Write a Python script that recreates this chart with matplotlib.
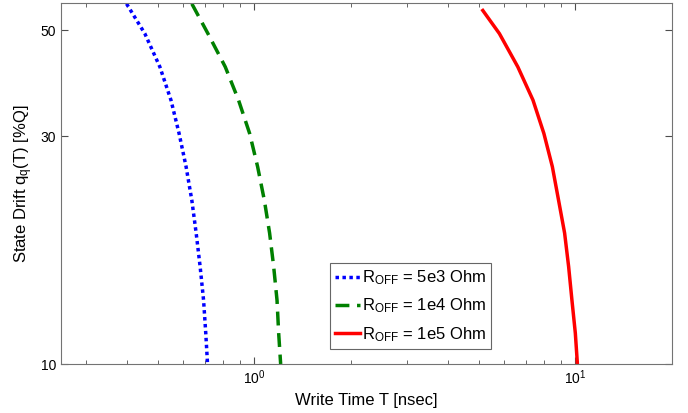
import matplotlib
matplotlib.use("Agg")
import matplotlib.pyplot as plt
from matplotlib.ticker import FixedLocator, FixedFormatter, NullFormatter, NullLocator, LogLocator

plt.rcParams['font.family'] = ['Liberation Sans', 'DejaVu Sans']
plt.rcParams['mathtext.default'] = 'regular'

# write time T [nsec] and state drift q_q(T) [%Q]
q_levels = [56.8, 49.2, 41.9, 35.7, 30.4, 25.9, 22.0, 18.8, 16.0, 13.6, 11.6, 10.0]

t_5e3 = [0.400, 0.456, 0.508, 0.550, 0.583, 0.613, 0.639, 0.659, 0.678, 0.695, 0.706, 0.715]
q_5e3 = q_levels

t_1e4 = [0.639, 0.717, 0.812, 0.893, 0.967, 1.024, 1.075, 1.116, 1.149, 1.177, 1.191, 1.208]
q_1e4 = q_levels

t_1e5 = [5.15, 5.80, 6.62, 7.38, 7.98, 8.48, 8.87, 9.26, 9.53, 9.76, 10.0, 10.15]
q_1e5 = [55.0] + q_levels[1:]

labels = ['R$_{OFF}$ = 5e3 Ohm', 'R$_{OFF}$ = 1e4 Ohm', 'R$_{OFF}$ = 1e5 Ohm']
y_ticks = [10, 30, 50]

fig = plt.figure(figsize=(6.88, 4.13), dpi=100)
ax = fig.add_axes([0.0887, 0.1186, 0.888, 0.874])

ax.plot(t_5e3, q_5e3, color='#0000ff', lw=2.5, ls=(0, (1, 1)), label=labels[0])
ax.plot(t_1e4, q_1e4, color='#008000', lw=2.5, ls=(0, (4, 2.2)), label=labels[1])
ax.plot(t_1e5, q_1e5, color='#ff0000', lw=2.5, ls='-', label=labels[2])

ax.set_xscale('log')
ax.set_yscale('log')
ax.set_xlim(0.25, 20)
ax.set_ylim(10, 57)

ax.yaxis.set_major_locator(FixedLocator(y_ticks))
ax.yaxis.set_major_formatter(FixedFormatter([str(v) for v in y_ticks]))
ax.yaxis.set_minor_locator(NullLocator())
ax.xaxis.set_minor_locator(LogLocator(subs=range(2, 10)))
ax.xaxis.set_minor_formatter(NullFormatter())

ax.tick_params(which='both', direction='in', top=True, right=True,
               labelsize=10, color='0.3', labelcolor='black')
ax.tick_params(which='major', length=5)
ax.tick_params(which='minor', length=3)
for sp in ax.spines.values():
    sp.set_color('0.45')

ax.set_xlabel('Write Time T [nsec]', fontsize=12)
ax.set_ylabel('State Drift q$_q$(T) [%Q]', fontsize=12)

leg = ax.legend(loc='lower left', bbox_to_anchor=(0.44, 0.042), fontsize=12,
                handlelength=1.5, handletextpad=0.1, borderpad=0.3,
                labelspacing=0.58, fancybox=False, framealpha=1, borderaxespad=0)
leg.get_frame().set_edgecolor('0.4')
leg.get_frame().set_linewidth(0.8)

fig.savefig('out.png', dpi=100)
